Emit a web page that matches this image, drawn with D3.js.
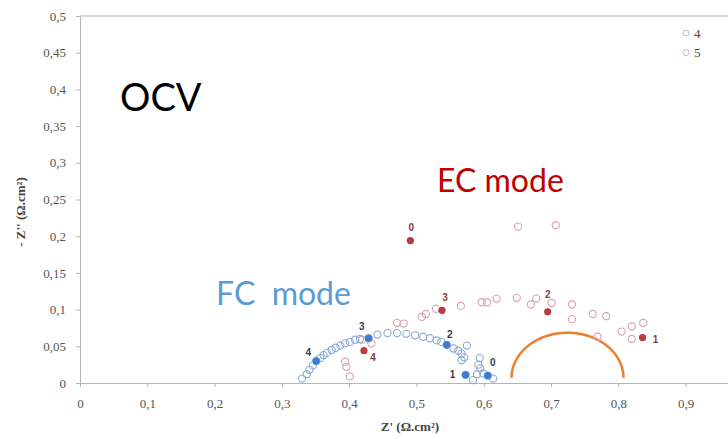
<!DOCTYPE html>
<html>
<head>
<meta charset="utf-8">
<script src="https://cdn.jsdelivr.net/npm/d3@7"></script>
<style>
  body { margin: 0; background: #fff; }
  svg { display: block; }
</style>
</head>
<body>
<svg id="svg"></svg>
<script>
// series 4 (blue, open circles) : Z' / -Z''
const s4X = [0.330,0.337,0.341,0.346,0.351,0.357,0.362,0.367,0.374,0.380,0.387,0.394,0.401,0.409,0.416,0.429,0.442,0.457,0.471,0.485,0.498,0.510,0.520,0.530,0.537,0.545,0.555,0.562,0.567,0.571,0.575,0.567,0.573,0.584,0.590,0.595,0.592,0.594,0.599,0.606,0.614]
const s4Y = [0.006,0.012,0.018,0.024,0.030,0.034,0.038,0.041,0.045,0.048,0.051,0.054,0.056,0.059,0.060,0.061,0.066,0.068,0.068,0.067,0.065,0.063,0.061,0.058,0.056,0.052,0.047,0.044,0.040,0.035,0.051,0.031,0.011,0.004,0.012,0.020,0.025,0.034,0.013,0.010,0.006]
// series 5 (red, open circles)
const s5X = [0.394,0.396,0.401,0.419,0.433,0.471,0.481,0.508,0.514,0.529,0.566,0.597,0.605,0.619,0.649,0.651,0.670,0.678,0.701,0.707,0.731,0.731,0.762,0.782,0.769,0.805,0.820,0.837,0.820]
const s5Y = [0.029,0.022,0.009,0.059,0.054,0.082,0.081,0.090,0.094,0.101,0.105,0.110,0.110,0.115,0.116,0.213,0.107,0.115,0.109,0.215,0.107,0.087,0.094,0.091,0.063,0.070,0.077,0.082,0.060]
// highlighted points with their numbers
const fcX = [0.606,0.573,0.545,0.429,0.351]
const fcY = [0.010,0.011,0.052,0.061,0.030]
const fcLabels = ['0','1','2','3','4']
const ecX = [0.491,0.836,0.695,0.538,0.422]
const ecY = [0.194,0.062,0.097,0.099,0.044]
const ecLabels = ['0','1','2','3','4']
// orange arc (centre, half width, height)
const arcCx = 0.7245, arcCy = 0.007, arcRx = 0.0832, arcRy = 0.0615
// ticks
const xTicks = [0,0.1,0.2,0.3,0.4,0.5,0.6,0.7,0.8,0.9]
const yTicks = [0,0.05,0.1,0.15,0.2,0.25,0.3,0.35,0.4,0.45,0.5]
const legendNames = ['4','5']

//declarations
let svg = d3.select('#svg')
let width = 728
let height = 439
let margin = {top:16,left:80,bottom:56,right:0}
svg.attr('width',width).attr('height',height)

let fmt = d => String(+d.toFixed(2)).replace('.',',')

let xScale = d3.scaleLinear().domain([0,0.963]).range([margin.left,width-margin.right])
let yScale = d3.scaleLinear().domain([0,0.5]).range([height-margin.bottom,margin.top])

//axes
let xGroup = svg.append('g')
  .attr('transform',`translate(0,${height-margin.bottom})`)
  .call(d3.axisBottom(xScale).tickValues(xTicks).tickFormat(fmt).tickSize(4).tickSizeOuter(0).tickPadding(12))
let yGroup = svg.append('g')
  .attr('transform',`translate(${margin.left},0)`)
  .call(d3.axisLeft(yScale).tickValues(yTicks).tickFormat(fmt).tickSize(4).tickSizeOuter(0).tickPadding(10))
svg.selectAll('.domain').attr('stroke','#b5b5b5')
svg.selectAll('.tick line').attr('stroke','#b5b5b5')
svg.selectAll('.tick text')
  .style('font-family','"Liberation Serif", serif').style('font-size','13px').style('fill','#555')
// top border
svg.append('line')
  .attr('x1',xScale(0)).attr('x2',width)
  .attr('y1',yScale(0.5)).attr('y2',yScale(0.5))
  .attr('stroke','#b5b5b5')

//axis titles
svg.append('text')
  .attr('x',410).attr('y',431)
  .attr('text-anchor','middle')
  .style('font-family','"Liberation Serif", serif').style('font-weight','bold').style('font-size','13px').style('fill','#444')
  .text('Z\' (\u03A9.cm\u00B2)')
svg.append('text')
  .attr('transform','translate(25,212) rotate(-90)')
  .attr('text-anchor','middle')
  .style('font-family','"Liberation Serif", serif').style('font-weight','bold').style('font-size','13px').style('fill','#444')
  .text('- Z\'\' (\u03A9.cm\u00B2)')

//orange arc
let arcPts = d3.range(0,181,3).map(a => [arcCx - arcRx*Math.cos(a*Math.PI/180), arcCy + arcRy*Math.sin(a*Math.PI/180)])
svg.append('path')
  .attr('d',d3.line().x(d=>xScale(d[0])).y(d=>yScale(d[1]))(arcPts))
  .attr('fill','none').attr('stroke','#ed7d31').attr('stroke-width',2.5)

//open circles
svg.append('g').selectAll('circle')
  .data(s5X.map((x,i)=>[x,s5Y[i]]))
  .enter().append('circle')
  .attr('cx',d=>xScale(d[0])).attr('cy',d=>yScale(d[1])).attr('r',3.6)
  .attr('fill','none').attr('stroke','#d8a1a8').attr('stroke-width',1.1)
svg.append('g').selectAll('circle')
  .data(s4X.map((x,i)=>[x,s4Y[i]]))
  .enter().append('circle')
  .attr('cx',d=>xScale(d[0])).attr('cy',d=>yScale(d[1])).attr('r',3.6)
  .attr('fill','none').attr('stroke','#8eacd3').attr('stroke-width',1.1)

//filled points + numbers
let fcOff = {'0':[5,-13],'1':[-13,0],'2':[3,-10],'3':[-7,-12],'4':[-8,-8]}
let ecOff = {'0':[1,-13],'1':[13,2],'2':[0,-17],'3':[3,-13],'4':[9,7]}
let marks = (xs,ys,labels,off,fill,textFill) => {
  let g = svg.append('g')
  let data = xs.map((x,i)=>({x:x,y:ys[i],l:labels[i]}))
  g.selectAll('circle').data(data).enter().append('circle')
    .attr('cx',d=>xScale(d.x)).attr('cy',d=>yScale(d.y)).attr('r',3.6)
    .attr('fill',fill)
  g.selectAll('text').data(data).enter().append('text')
    .attr('x',d=>xScale(d.x)+off[d.l][0]).attr('y',d=>yScale(d.y)+off[d.l][1])
    .attr('text-anchor','middle').attr('dominant-baseline','central')
    .style('font-family','"Liberation Sans", sans-serif').style('font-weight','bold').style('font-size','10px')
    .style('fill',textFill)
    .text(d=>d.l)
}
marks(fcX,fcY,fcLabels,fcOff,'#3b7dcc','#2e3d5c')
marks(ecX,ecY,ecLabels,ecOff,'#b83a45','#8a3b42')

//legend
let legend = svg.append('g')
legendNames.forEach((n,i) => {
  legend.append('circle').attr('cx',686).attr('cy',33+i*19.5).attr('r',3)
    .attr('fill','none').attr('stroke',i==0?'#aebfd8':'#e3aab8').attr('stroke-width',1)
  legend.append('text').attr('x',694).attr('y',33+i*19.5).attr('dominant-baseline','central')
    .style('font-family','"Liberation Serif", serif').style('font-size','13px').style('fill','#444')
    .text(n)
})

//annotations
let note = (txt,x,y,size,color) => svg.append('text').attr('x',x).attr('y',y)
  .style('font-family','Lato, sans-serif').style('font-size',size+'px').style('fill',color)
  .style('white-space','pre').attr('xml:space','preserve').text(txt)
note('OCV',120,111,38,'#000')
note('EC mode',437,192,32,'#c00000')
note('FC  mode',216,305,32,'#5b9bd5')
</script>
</body>
</html>
